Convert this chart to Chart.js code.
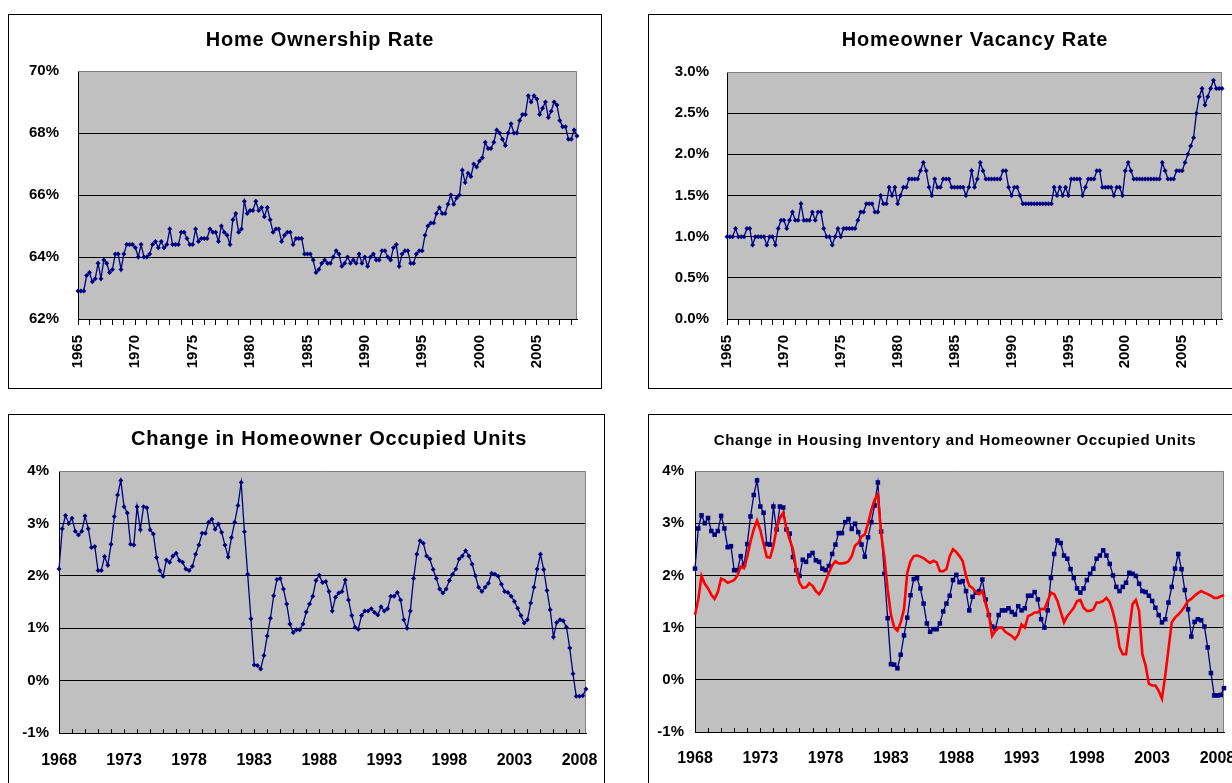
<!DOCTYPE html>
<html lang="en">
  <head>
    <meta charset="UTF-8" />
    <title>Housing Charts</title>
    <script src="https://cdn.jsdelivr.net/npm/chart.js@4.4.1/dist/chart.umd.min.js"></script>
    <style>
      body {
        margin: 0;
        width: 1232px;
        height: 783px;
        overflow: hidden;
        background: #fff;
        position: relative;
      }
      .panel {
        position: absolute;
        box-sizing: border-box;
        border: 1px solid #000;
        background: #fff;
      }
      canvas {
        position: absolute;
      }
      .title {
        position: absolute;
        width: 600px;
        text-align: center;
        font: bold 20px Arial, "Liberation Sans", sans-serif;
        line-height: 20px;
        letter-spacing: 0.8px;
        white-space: nowrap;
        color: #000;
      }
      .title.small {
        font-size: 15px;
        line-height: 15px;
        letter-spacing: 0.7px;
      }
    </style>
  </head>
  <body>
    <div class="panel" style="left: 8px; top: 14px; width: 594px; height: 375px"></div>
    <div class="panel" style="left: 648px; top: 14px; width: 700px; height: 375px"></div>
    <div class="panel" style="left: 8px; top: 414px; width: 597px; height: 500px"></div>
    <div class="panel" style="left: 648px; top: 414px; width: 700px; height: 500px"></div>

    <canvas id="ownership" width="592" height="372" style="left: 9px; top: 15px"></canvas>
    <canvas id="vacancy" width="583" height="372" style="left: 649px; top: 15px"></canvas>
    <canvas id="units" width="595" height="368" style="left: 9px; top: 415px"></canvas>
    <canvas id="inventory" width="583" height="368" style="left: 649px; top: 415px"></canvas>

    <div class="title" style="left: 20px; top: 29px">Home Ownership Rate</div>
    <div class="title" style="left: 675px; top: 29px">Homeowner Vacancy Rate</div>
    <div class="title" style="left: 29px; top: 428px">Change in Homeowner Occupied Units</div>
    <div class="title small" style="left: 655px; top: 432px">Change in Housing Inventory and Homeowner Occupied Units</div>

    <script>
      // Quarterly data, 1965 Q1 - 2008 Q3
      const ownershipRate = [
        62.9, 62.9, 62.9, 63.4, 63.5, 63.2, 63.3, 63.8, 63.3, 63.9, 63.8, 63.5,
        63.6, 64.1, 64.1, 63.6, 64.1, 64.4, 64.4, 64.4, 64.3, 64.0, 64.4, 64.0,
        64.0, 64.1, 64.4, 64.5, 64.3, 64.5, 64.3, 64.4, 64.9, 64.4, 64.4, 64.4,
        64.8, 64.8, 64.6, 64.4, 64.4, 64.9, 64.5, 64.6, 64.6, 64.6, 64.9, 64.8,
        64.8, 64.5, 65.0, 64.8, 64.7, 64.4, 65.2, 65.4, 64.8, 64.9, 65.8, 65.4,
        65.5, 65.5, 65.8, 65.5, 65.6, 65.3, 65.6, 65.2, 64.8, 64.9, 64.9, 64.5,
        64.7, 64.8, 64.8, 64.4, 64.6, 64.6, 64.6, 64.1, 64.1, 64.1, 63.9, 63.5,
        63.6, 63.8, 63.9, 63.8, 63.8, 64.0, 64.2, 64.1, 63.7, 63.8, 64.0, 63.8,
        63.9, 63.8, 64.1, 63.8, 64.0, 63.7, 64.0, 64.1, 63.9, 63.9, 64.2, 64.2,
        64.0, 63.9, 64.3, 64.4, 63.7, 64.1, 64.2, 64.2, 63.8, 63.8, 64.1, 64.2,
        64.2, 64.7, 65.0, 65.1, 65.1, 65.4, 65.6, 65.4, 65.4, 65.7, 66.0, 65.7,
        65.9, 66.0, 66.8, 66.4, 66.7, 66.6, 67.0, 66.9, 67.1, 67.2, 67.7, 67.5,
        67.5, 67.7, 68.1, 68.0, 67.8, 67.6, 68.0, 68.3, 68.0, 68.0, 68.4, 68.6,
        68.6, 69.2, 69.0, 69.2, 69.1, 68.6, 68.8, 69.0, 68.5, 68.7, 69.0, 68.9,
        68.4, 68.2, 68.2, 67.8, 67.8, 68.1, 67.9
      ];
      const vacancyRate = [
        1.0, 1.0, 1.0, 1.1, 1.0, 1.0, 1.0, 1.1, 1.1, 0.9, 1.0, 1.0,
        1.0, 1.0, 0.9, 1.0, 1.0, 0.9, 1.1, 1.2, 1.2, 1.1, 1.2, 1.3,
        1.2, 1.2, 1.4, 1.2, 1.2, 1.2, 1.3, 1.2, 1.3, 1.3, 1.1, 1.0,
        1.0, 0.9, 1.0, 1.1, 1.0, 1.1, 1.1, 1.1, 1.1, 1.1, 1.2, 1.3,
        1.3, 1.4, 1.4, 1.4, 1.3, 1.3, 1.5, 1.4, 1.4, 1.6, 1.5, 1.6,
        1.4, 1.5, 1.6, 1.6, 1.7, 1.7, 1.7, 1.7, 1.8, 1.9, 1.8, 1.6,
        1.5, 1.7, 1.6, 1.6, 1.7, 1.7, 1.7, 1.6, 1.6, 1.6, 1.6, 1.6,
        1.5, 1.6, 1.8, 1.6, 1.7, 1.9, 1.8, 1.7, 1.7, 1.7, 1.7, 1.7,
        1.7, 1.8, 1.8, 1.6, 1.5, 1.6, 1.6, 1.5, 1.4, 1.4, 1.4, 1.4,
        1.4, 1.4, 1.4, 1.4, 1.4, 1.4, 1.4, 1.6, 1.5, 1.6, 1.5, 1.6,
        1.5, 1.7, 1.7, 1.7, 1.7, 1.5, 1.6, 1.7, 1.7, 1.7, 1.8, 1.8,
        1.6, 1.6, 1.6, 1.6, 1.5, 1.6, 1.6, 1.5, 1.8, 1.9, 1.8, 1.7,
        1.7, 1.7, 1.7, 1.7, 1.7, 1.7, 1.7, 1.7, 1.7, 1.9, 1.8, 1.7,
        1.7, 1.7, 1.8, 1.8, 1.8, 1.9, 2.0, 2.1, 2.2, 2.5, 2.7, 2.8,
        2.6, 2.7, 2.8, 2.9, 2.8, 2.8, 2.8
      ];
      // Year-over-year change, 1968 Q1 - 2008 Q3
      const ownerUnitsChange = [
        2.13, 2.90, 3.15, 3.00, 3.10, 2.85, 2.78, 2.85, 3.14, 2.90, 2.54, 2.56,
        2.10, 2.10, 2.37, 2.20, 2.60, 3.13, 3.54, 3.82, 3.32, 3.20, 2.60, 2.59,
        3.32, 2.88, 3.32, 3.30, 2.88, 2.80, 2.35, 2.10, 1.99, 2.30, 2.26, 2.38,
        2.43, 2.29, 2.26, 2.13, 2.10, 2.18, 2.41, 2.59, 2.81, 2.81, 3.02, 3.08,
        2.89, 2.99, 2.83, 2.59, 2.36, 2.73, 3.02, 3.34, 3.78, 2.84, 2.03, 1.18,
        0.30, 0.29, 0.22, 0.48, 0.85, 1.19, 1.62, 1.93, 1.95, 1.75, 1.46, 1.08,
        0.92, 0.97, 0.97, 1.08, 1.31, 1.46, 1.61, 1.91, 2.01, 1.87, 1.89, 1.70,
        1.33, 1.59, 1.67, 1.70, 1.92, 1.54, 1.24, 1.02, 0.98, 1.24, 1.33, 1.33,
        1.37, 1.30, 1.25, 1.41, 1.33, 1.37, 1.61, 1.61, 1.68, 1.54, 1.16, 1.00,
        1.33, 1.95, 2.41, 2.67, 2.62, 2.38, 2.32, 2.12, 1.95, 1.75, 1.67, 1.75,
        1.91, 2.03, 2.13, 2.32, 2.38, 2.48, 2.38, 2.22, 2.00, 1.78, 1.70, 1.78,
        1.86, 2.05, 2.03, 1.99, 1.84, 1.70, 1.68, 1.61, 1.51, 1.38, 1.24, 1.10,
        1.16, 1.48, 1.78, 2.13, 2.41, 2.12, 1.72, 1.35, 0.83, 1.11, 1.16, 1.14,
        1.02, 0.62, 0.13, -0.30, -0.30, -0.29, -0.16
      ];
      const inventoryChange = [
        1.24, 1.54, 1.99, 1.84, 1.75, 1.63, 1.55, 1.68, 1.94, 1.91, 1.86, 1.88,
        1.91, 2.00, 2.17, 2.14, 2.36, 2.65, 2.88, 3.05, 2.87, 2.60, 2.35, 2.34,
        2.56, 2.91, 3.10, 3.20, 2.90, 2.68, 2.50, 2.11, 1.86, 1.76, 1.77, 1.85,
        1.80, 1.70, 1.64, 1.73, 1.89, 2.05, 2.19, 2.27, 2.23, 2.23, 2.24, 2.27,
        2.37, 2.57, 2.62, 2.75, 2.78, 3.00, 3.25, 3.45, 3.55, 2.80, 2.34, 1.73,
        1.25, 1.00, 0.94, 1.10, 1.35, 2.05, 2.27, 2.37, 2.38, 2.36, 2.33, 2.28,
        2.24, 2.28, 2.25, 2.08, 2.08, 2.12, 2.37, 2.50, 2.45, 2.37, 2.27, 1.99,
        1.80, 1.76, 1.68, 1.64, 1.70, 1.46, 1.25, 0.84, 0.94, 1.00, 1.00, 0.92,
        0.88, 0.84, 0.78, 0.87, 1.06, 1.00, 1.22, 1.25, 1.29, 1.29, 1.36, 1.35,
        1.51, 1.67, 1.64, 1.51, 1.30, 1.10, 1.22, 1.30, 1.38, 1.51, 1.53, 1.38,
        1.32, 1.32, 1.35, 1.48, 1.48, 1.51, 1.57, 1.49, 1.29, 1.03, 0.62, 0.49,
        0.49, 0.97, 1.45, 1.53, 1.32, 0.49, 0.27, -0.08, -0.11, -0.11, -0.21, -0.36,
        0.08, 0.59, 1.10, 1.19, 1.25, 1.32, 1.41, 1.51, 1.55, 1.61, 1.66, 1.70,
        1.67, 1.64, 1.61, 1.57, 1.57, 1.60, 1.62
      ];

      const ownTickYears = ["1965", "1970", "1975", "1980", "1985", "1990", "1995", "2000", "2005"];
      const unitTickYears = ["1968", "1973", "1978", "1983", "1988", "1993", "1998", "2003", "2008"];

      const NAVY = "#000080";

      Chart.defaults.font.family = 'Arial, "Liberation Sans", sans-serif';
      Chart.defaults.font.weight = "bold";
      Chart.defaults.color = "#000";
      Chart.defaults.animation = false;
      Chart.defaults.plugins.legend.display = false;
      Chart.defaults.plugins.tooltip.enabled = false;

      function quarterLabels(firstYear, count) {
        const out = [];
        for (let i = 0; i < count; i++) {
          out.push(firstYear + Math.floor(i / 4) + " Q" + ((i % 4) + 1));
        }
        return out;
      }

      // grey plot background, grey top/right edge, optional tick marks pointing up
      const plotFrame = {
        id: "plotFrame",
        beforeDraw(chart) {
          const a = chart.chartArea;
          const ctx = chart.ctx;
          ctx.save();
          ctx.fillStyle = "#C0C0C0";
          ctx.fillRect(a.left, a.top, a.right - a.left, a.bottom - a.top);
          ctx.restore();
        },
        beforeDatasetsDraw(chart, args, opts) {
          const a = chart.chartArea;
          const ctx = chart.ctx;
          ctx.save();
          ctx.lineWidth = 1;
          ctx.strokeStyle = "#808080";
          ctx.beginPath();
          ctx.moveTo(a.left, a.top + 0.5);
          ctx.lineTo(a.right - 0.5, a.top + 0.5);
          ctx.lineTo(a.right - 0.5, a.bottom);
          ctx.stroke();
          if (opts.innerTicks) {
            const x = chart.scales.x;
            ctx.strokeStyle = "#000";
            ctx.beginPath();
            x.ticks.forEach((t, i) => {
              if (i % 4 !== 0) return;
              const px = Math.round(x.getPixelForTick(i)) + 0.5;
              ctx.moveTo(px, a.bottom);
              ctx.lineTo(px, a.bottom - 4);
            });
            ctx.stroke();
          }
          ctx.restore();
        },
      };

      function yAxis(min, max, step, width, pad, fmt) {
        return {
          min: min,
          max: max,
          ticks: { stepSize: step, padding: pad, font: { size: 15 }, callback: fmt },
          grid: {
            drawTicks: false,
            color: (c) => (c.tick && c.tick.value >= max ? "rgba(0,0,0,0)" : "#000"),
          },
          border: { color: "#000" },
          afterFit: (s) => {
            s.width = width;
          },
        };
      }

      function xAxis(tickYears, rotated, pad, size, height) {
        return {
          type: "category",
          offset: false,
          ticks: {
            autoSkip: false,
            minRotation: rotated ? 90 : 0,
            maxRotation: rotated ? 90 : 0,
            padding: pad,
            font: { size: size },
            callback: function (v) {
              const lbl = this.getLabelForValue(v);
              const yr = lbl.slice(0, 4);
              return lbl.endsWith("Q1") && tickYears.includes(yr) ? yr : "";
            },
          },
          grid: {
            drawOnChartArea: false,
            drawTicks: rotated,
            tickLength: 6,
            tickColor: (c) => (c.index % 4 === 0 ? "#000" : "rgba(0,0,0,0)"),
          },
          border: { color: "#000" },
          afterFit: (s) => {
            s.height = height;
            s.paddingLeft = 0;
            s.paddingRight = 0;
          },
        };
      }

      function navyLine(label, data, style, radius) {
        return {
          label: label,
          data: data,
          borderColor: NAVY,
          borderWidth: 1.3,
          pointStyle: style,
          pointRadius: radius,
          pointBackgroundColor: NAVY,
          pointBorderColor: NAVY,
          pointBorderWidth: 0,
          tension: 0,
          clip: false,
          order: 1,
        };
      }

      const pct = (v) => v + "%";

      new Chart(document.getElementById("ownership"), {
        type: "line",
        data: {
          labels: quarterLabels(1965, ownershipRate.length),
          datasets: [navyLine("Home Ownership Rate", ownershipRate, "rectRot", 2.5)],
        },
        options: {
          responsive: false,
          layout: { padding: { left: 0, top: 56, right: 24, bottom: 0 } },
          scales: {
            x: xAxis(ownTickYears, true, 10, 15, 68),
            y: yAxis(62, 70, 2, 69, 19, pct),
          },
          plugins: { plotFrame: {} },
        },
        plugins: [plotFrame],
      });

      new Chart(document.getElementById("vacancy"), {
        type: "line",
        data: {
          labels: quarterLabels(1965, vacancyRate.length),
          datasets: [navyLine("Homeowner Vacancy Rate", vacancyRate, "rectRot", 2.5)],
        },
        options: {
          responsive: false,
          layout: { padding: { left: 0, top: 57, right: 10, bottom: 0 } },
          scales: {
            x: xAxis(ownTickYears, true, 10, 15, 68),
            y: yAxis(0, 3, 0.5, 78, 18, (v) => v.toFixed(1) + "%"),
          },
          plugins: { plotFrame: {} },
        },
        plugins: [plotFrame],
      });

      new Chart(document.getElementById("units"), {
        type: "line",
        data: {
          labels: quarterLabels(1968, ownerUnitsChange.length),
          datasets: [navyLine("Homeowner Occupied Units", ownerUnitsChange, "rectRot", 2.5)],
        },
        options: {
          responsive: false,
          layout: { padding: { left: 0, top: 56, right: 18, bottom: 0 } },
          scales: {
            x: xAxis(unitTickYears, false, 18, 16, 50),
            y: yAxis(-1, 4, 1, 50, 10, pct),
          },
          plugins: { plotFrame: { innerTicks: true } },
        },
        plugins: [plotFrame],
      });

      new Chart(document.getElementById("inventory"), {
        type: "line",
        data: {
          labels: quarterLabels(1968, ownerUnitsChange.length),
          datasets: [
            navyLine("Homeowner Occupied Units", ownerUnitsChange, "rect", 3.2),
            {
              label: "Housing Inventory",
              data: inventoryChange,
              borderColor: "#FF0000",
              borderWidth: 2.6,
              pointRadius: 0,
              tension: 0,
              clip: false,
              order: 0,
            },
          ],
        },
        options: {
          responsive: false,
          layout: { padding: { left: 0, top: 56, right: 8, bottom: 0 } },
          scales: {
            x: xAxis(unitTickYears, false, 17, 16, 51),
            y: yAxis(-1, 4, 1, 46, 11, pct),
          },
          plugins: { plotFrame: { innerTicks: true } },
        },
        plugins: [plotFrame],
      });
    </script>
  </body>
</html>
